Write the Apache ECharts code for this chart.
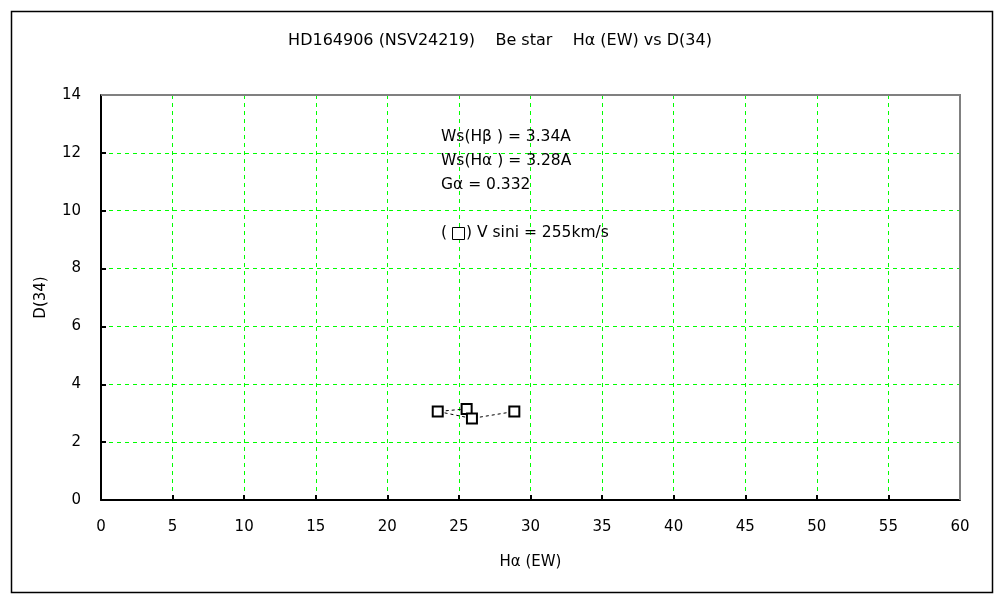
<!DOCTYPE html>
<html><head><meta charset="utf-8">
<script src="https://cdn.jsdelivr.net/npm/echarts@6/dist/echarts.min.js"></script>
<style>html,body{margin:0;padding:0;background:#fff}#c{width:1000px;height:600px}</style>
</head><body><div id="c"></div>
<script>
// Data (in observation order)
const haEW = [25.54, 23.52, 25.91, 28.87];
const d34  = [3.15, 3.06, 2.82, 3.06];
const xTicks = [0, 60, 5];   // min, max, interval
const yTicks = [0, 14, 2];
const titleText = 'HD164906 (NSV24219)    Be star    H\u03b1 (EW) vs D(34)';
const notes = ['Ws(H\u03b2 ) = 3.34A', 'Ws(H\u03b1 ) = 3.28A', 'G\u03b1 = 0.332'];
const vsiniText = ') V sini = 255km/s';

const FONT = '"DejaVu Sans", sans-serif';
const chart = echarts.init(document.getElementById('c'), null, {renderer: 'canvas'});
const pts = haEW.map((x, i) => [x, d34[i]]);

const axisCommon = {
  axisLine: {show: true, onZero: false, lineStyle: {color: '#000', width: 2}},
  axisTick: {show: true, inside: true, length: 5, lineStyle: {color: '#000', width: 2}},
  axisLabel: {color: '#000', fontSize: 15, fontFamily: FONT, margin: 20},
  splitLine: {show: true, lineStyle: {color: '#00ff00', width: 1, type: [4, 4]}},
  nameTextStyle: {color: '#000', fontSize: 15, fontFamily: FONT}
};
const noteStyle = (t) => ({text: t, fontSize: 15.5, fontFamily: FONT, fill: '#000'});

chart.setOption({
  animation: false,
  backgroundColor: '#fff',
  title: {text: titleText, left: 'center', top: 28,
    textStyle: {fontSize: 16, fontWeight: 'normal', color: '#000', fontFamily: FONT}},
  grid: {left: 101, top: 95, right: 40, bottom: 100, show: false},
  xAxis: Object.assign({}, axisCommon, {
    type: 'value', min: xTicks[0], max: xTicks[1], interval: xTicks[2],
    name: 'H\u03b1 (EW)', nameLocation: 'middle', nameGap: 55
  }),
  yAxis: Object.assign({}, axisCommon, {
    type: 'value', min: yTicks[0], max: yTicks[1], interval: yTicks[2],
    name: 'D(34)', nameLocation: 'middle', nameGap: 52, nameRotate: 90
  }),
  series: [{
    type: 'line', data: pts,
    symbol: 'rect', symbolSize: 10,
    lineStyle: {color: '#000', width: 1, type: [3, 3]},
    itemStyle: {color: '#fff', borderColor: '#000', borderWidth: 2},
    z: 5
  }],
  graphic: [
    {type: 'rect', left: 9, top: 9, z: 100, silent: true,
      shape: {width: 981, height: 581}, style: {fill: 'none', stroke: '#000', lineWidth: 1.5}},
    {type: 'polyline', z: 100, silent: true,
      shape: {points: [[101, 95], [960, 95], [960, 500]]},
      style: {fill: 'none', stroke: '#808080', lineWidth: 2}},
    {type: 'text', left: 441, top: 129, z: 100, style: noteStyle(notes[0])},
    {type: 'text', left: 441, top: 153, z: 100, style: noteStyle(notes[1])},
    {type: 'text', left: 441, top: 177, z: 100, style: noteStyle(notes[2])},
    {type: 'text', left: 441, top: 225, z: 100, style: noteStyle('(')},
    {type: 'rect', left: 452, top: 227, z: 100, shape: {width: 12, height: 12},
      style: {fill: '#fff', stroke: '#000', lineWidth: 1}},
    {type: 'text', left: 466, top: 225, z: 100, style: noteStyle(vsiniText)}
  ]
});
</script></body></html>
